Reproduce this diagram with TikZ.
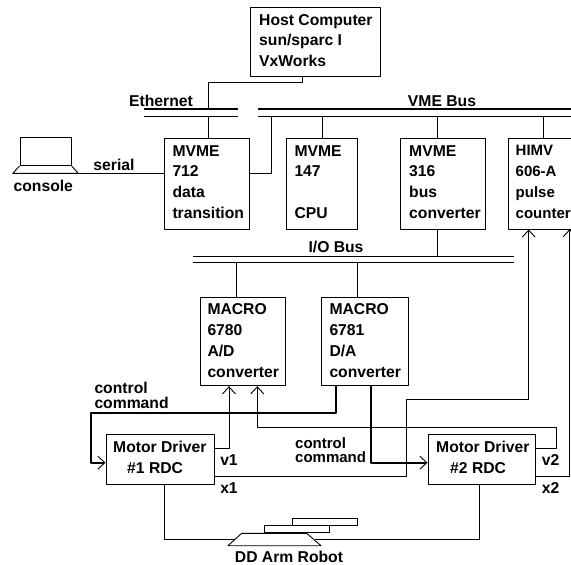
\documentclass[tikz,border=0pt]{standalone}
\usepackage{fontspec}
\setmainfont{Liberation Sans}
\usetikzlibrary{arrows.meta}
\tikzset{
	boxnode/.style = {draw, line width = 1, inner sep = 0},
	cardtext/.style = {font = \bfseries\fontsize{15.7}{20.8}\selectfont, align = left, anchor = west, inner sep = 0},
	lbl/.style = {font = \bfseries\fontsize{15.7}{14.6}\selectfont, inner sep = 0},
	busline/.style = {line width = 1.5},
	wire/.style = {line width = 0.9},
	cmdwire/.style = {line width = 1.8},
}
\begin{document}
\begin{tikzpicture}[x=1pt, y=-1pt, line join=round, >={Straight Barb[length=7pt,width=13pt,line width=0.9pt]}]
	\useasboundingbox (0,0) rectangle (571,565);
	% boxes
	\node[boxnode, minimum width = 130, minimum height = 68.7] (host) at (315.7,41.65) {};
	\node[cardtext] (hosttext) at (259,40.5) {Host Computer\\sun/sparc I\\VxWorks};
	\node[boxnode, minimum width = 85, minimum height = 90.7] (mvmeA) at (207,183.65) {};
	\node[cardtext] (mvmeAtext) at (172.3,182) {MVME\\712\\data\\transition};
	\node[boxnode, minimum width = 70.6, minimum height = 90.7] (mvmeB) at (322,183.65) {};
	\node[cardtext] (mvmeBtext) at (294.3,182) {MVME\\147\\\strut\\CPU};
	\node[boxnode, minimum width = 85, minimum height = 90.7] (mvmeC) at (443.2,183.65) {};
	\node[cardtext] (mvmeCtext) at (409,182) {MVME\\316\\bus\\converter};
	\node[boxnode, minimum width = 67, minimum height = 90.7] (himv) at (541.5,183.65) {};
	\node[cardtext, font = \bfseries\fontsize{15}{20.8}\selectfont] (himvtext) at (515.5,182) {HIMV\\606-A\\pulse\\counter};
	\node[boxnode, minimum width = 85.7, minimum height = 88] (macroA) at (242.85,341.7) {};
	\node[cardtext] (macroAtext) at (207.3,340.5) {MACRO\\6780\\A/D\\converter};
	\node[boxnode, minimum width = 86.3, minimum height = 88] (macroB) at (364.85,341.7) {};
	\node[cardtext] (macroBtext) at (329.3,340.5) {MACRO\\6781\\D/A\\converter};
	\node[boxnode, minimum width = 108, minimum height = 50] (driverA) at (160,459) {};
	\node[cardtext] (driverAtext) at (113,457) {Motor Driver\\\hspace*{14pt}\#1 RDC};
	\node[boxnode, minimum width = 107, minimum height = 50] (driverB) at (481.5,459) {};
	\node[cardtext] (driverBtext) at (436,457) {Motor Driver\\\hspace*{14pt}\#2 RDC};
	% buses
	\coordinate (ethup) at (144,109);
	\coordinate (ethlow) at (144,116.5);
	\coordinate (vmeup) at (258,109);
	\coordinate (vmelow) at (258,116.5);
	\coordinate (ioup) at (192.7,256);
	\coordinate (iolow) at (192.7,262.7);
	\draw[busline] (ethup) -- ++(94,0);
	\draw[busline] (ethlow) -- ++(94,0);
	\draw[busline] (vmeup) -- ++(313,0);
	\draw[busline] (vmelow) -- ++(313,0);
	\draw[wire] (ioup) -- ++(321.3,0);
	\draw[wire] (iolow) -- ++(321.3,0);
	\node[lbl] (ethlabel) at (161,101) {Ethernet};
	\node[lbl] (vmelabel) at (442,101) {VME Bus};
	\node[lbl] (iolabel) at (336,247.3) {I/O Bus};
	% console
	\node[draw, line width = 0.9, minimum width = 51.3, minimum height = 28.4, inner sep = 0] (screen) at (45.65,151.5) {};
	\coordinate (laptop) at (78.3,173.3);
	\draw[wire] (screen.south west) -- (12.7,173.3) -- (laptop) -- (screen.south east);
	\node[lbl] (consolelabel) at (43.3,186) {console};
	\node[lbl] (seriallabel) at (114,165) {serial};
	% bus connections
	\draw[wire] ([xshift=-13.7pt]host.south) -- ++(0,6) -| ([xshift=64pt]ethup);
	\draw[wire] ([xshift=1pt]mvmeA.north) -- ([xshift=1pt]mvmeA.north |- ethlow);
	\draw[wire] (laptop) -- (mvmeA.west |- laptop);
	\draw[wire] (mvmeA.east |- laptop) -| ([xshift=13.3pt]vmelow);
	\draw[wire] (mvmeB.north) -- (mvmeB.north |- vmelow);
	\draw[wire] ([xshift=-5.9pt]mvmeC.north) -- ([xshift=-5.9pt]mvmeC.north |- vmelow);
	\draw[wire] ([xshift=1.8pt]himv.north) -- ([xshift=1.8pt]himv.north |- vmelow);
	\draw[wire] ([xshift=-5.9pt]mvmeC.south) -- ([xshift=-5.9pt]mvmeC.south |- ioup);
	\draw[wire] ([xshift=-6.85pt]macroA.north) -- ([xshift=-6.85pt]macroA.north |- iolow);
	\draw[wire] ([xshift=-7pt]macroB.north) -- ([xshift=-7pt]macroB.north |- iolow);
	% control commands
	\draw[cmdwire, ->] ([xshift=-29pt]macroB.south) |- (90.7,412.7) |- (driverA.west |- 0,462.7);
	\draw[cmdwire, ->] ([xshift=6pt]macroB.south) |- (driverB.west |- 0,462.7);
	\node[lbl, anchor = west, align = left] (cmdA) at (94.3,395.5) {control\\command};
	\node[lbl, anchor = west, align = left, font = \bfseries\fontsize{15}{14.6}\selectfont] (cmdB) at (295,450) {control\\command};
	% feedback
	\draw[wire, ->] (driverA.east |- 0,448.7) -| ([xshift=-13.85pt]macroA.south);
	\draw[wire, ->] (driverB.east |- 0,448.7) -- (556.7,448.7) |- (257.3,427.7) -- ([xshift=14.45pt]macroA.south);
	\draw[wire, ->] (driverA.east |- 0,476.7) -| (406.7,399) -| ([xshift=-12.8pt]himv.south);
	\draw[wire, ->] (driverB.east |- 0,476.7) -| (569.8,229);
	\node[lbl] (vA) at (229,460) {v1};
	\node[lbl] (xA) at (229,488) {x1};
	\node[lbl] (vB) at (550.7,460) {v2};
	\node[lbl] (xB) at (550.7,488) {x2};
	% robot
	\coordinate (robotleft) at (235,539.3);
	\coordinate (robotright) at (315,539.3);
	\draw[wire] (228,545.7) -- (241.7,533.3) -- (306.7,533.3) -- (321,545.7) -- cycle;
	\draw[wire] (264,532) rectangle (329,525);
	\draw[wire] (292.7,525) rectangle (357.7,518.3);
	\draw[wire] ([xshift=4pt]driverA.south) |- (robotleft);
	\draw[wire] ([xshift=-2.5pt]driverB.south) |- (robotright);
	\node[lbl] (robotlabel) at (289,557) {DD Arm Robot};
\end{tikzpicture}
\end{document}
